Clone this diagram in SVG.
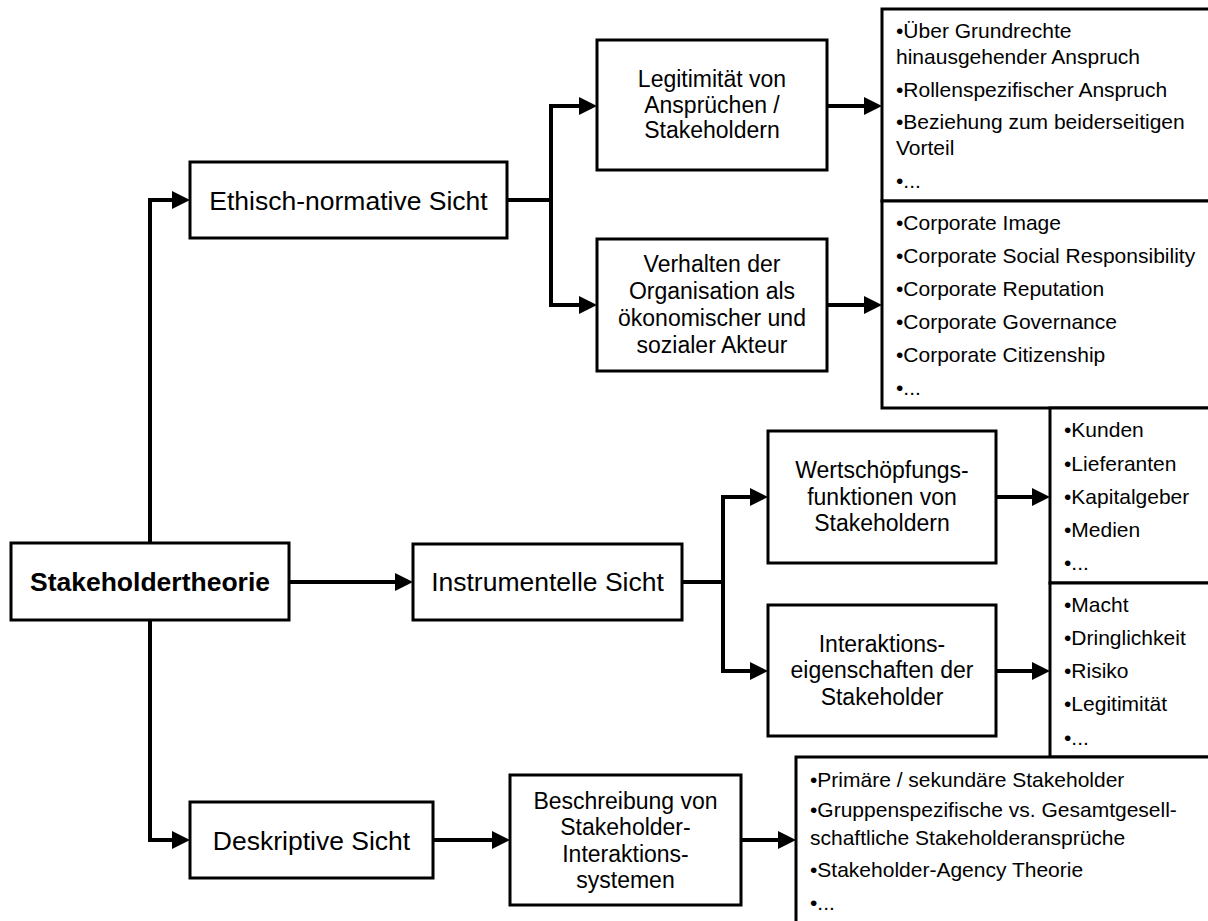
<svg xmlns="http://www.w3.org/2000/svg" width="1208" height="921" viewBox="0 0 1208 921">
  <style>
    .box{fill:#fff;stroke:#000;stroke-width:3}
    .conn{fill:none;stroke:#000;stroke-width:4;stroke-linejoin:miter}
    text{font-family:"Liberation Sans",Arial,Helvetica,sans-serif;fill:#000}
    .main{font-size:26.5px;text-anchor:middle}
    .bold{font-weight:bold}
    .mid{font-size:23px;text-anchor:middle}
    .list{font-size:21px}
  </style>
  <defs>
    <marker id="arrow" markerUnits="userSpaceOnUse" markerWidth="18" markerHeight="18" refX="0" refY="9" orient="auto">
      <path d="M0,0 L18,9 L0,18 Z" fill="#000"/>
    </marker>
  </defs>

  <rect width="1208" height="921" fill="#fff"/>

  <!-- connectors -->
  <g id="connectors" class="conn" marker-end="url(#arrow)">
    <path d="M150,543 V200 H172"/>
    <path d="M150,620 V840 H172"/>
    <path d="M289,582 H395"/>
    <path d="M507,200 H551 V106 H579"/>
    <path d="M551,200 V305 H579"/>
    <path d="M827,106 H864"/>
    <path d="M827,305 H864"/>
    <path d="M682,582 H723 V497 H750"/>
    <path d="M723,582 V671 H750"/>
    <path d="M996,497 H1032"/>
    <path d="M996,671 H1032"/>
    <path d="M433,840 H492"/>
    <path d="M741,840 H778"/>
  </g>

  <!-- root -->
  <g id="n-stakeholdertheorie">
    <rect class="box" x="11" y="543" width="278" height="77"/>
    <text class="main bold" x="150" y="591">Stakeholdertheorie</text>
  </g>

  <!-- views -->
  <g id="n-ethisch">
    <rect class="box" x="190" y="162" width="317" height="76"/>
    <text class="main" x="348.5" y="209.5">Ethisch-normative Sicht</text>
  </g>
  <g id="n-instrumentell">
    <rect class="box" x="413" y="544" width="269" height="76"/>
    <text class="main" x="547.5" y="591">Instrumentelle Sicht</text>
  </g>
  <g id="n-deskriptiv">
    <rect class="box" x="190" y="802" width="243" height="76"/>
    <text class="main" x="311.5" y="849.5">Deskriptive Sicht</text>
  </g>

  <!-- second level -->
  <g id="n-legitimitaet">
    <rect class="box" x="597" y="40" width="230" height="130"/>
    <text class="mid" x="712" y="87">Legitimität von</text>
    <text class="mid" x="712" y="112.5">Ansprüchen /</text>
    <text class="mid" x="712" y="138">Stakeholdern</text>
  </g>
  <g id="n-verhalten">
    <rect class="box" x="597" y="239" width="230" height="132"/>
    <text class="mid" x="712" y="272">Verhalten der</text>
    <text class="mid" x="712" y="299">Organisation als</text>
    <text class="mid" x="712" y="326">ökonomischer und</text>
    <text class="mid" x="712" y="353">sozialer Akteur</text>
  </g>
  <g id="n-wertschoepfung">
    <rect class="box" x="768" y="431" width="228" height="132"/>
    <text class="mid" x="882" y="478">Wertschöpfungs-</text>
    <text class="mid" x="882" y="504.5">funktionen von</text>
    <text class="mid" x="882" y="531">Stakeholdern</text>
  </g>
  <g id="n-interaktion">
    <rect class="box" x="768" y="605" width="228" height="131"/>
    <text class="mid" x="882" y="651.5">Interaktions-</text>
    <text class="mid" x="882" y="678">eigenschaften der</text>
    <text class="mid" x="882" y="704.5">Stakeholder</text>
  </g>
  <g id="n-beschreibung">
    <rect class="box" x="510" y="775" width="231" height="130"/>
    <text class="mid" x="625.5" y="808.5">Beschreibung von</text>
    <text class="mid" x="625.5" y="835">Stakeholder-</text>
    <text class="mid" x="625.5" y="861.5">Interaktions-</text>
    <text class="mid" x="625.5" y="888">systemen</text>
  </g>

  <!-- detail lists -->
  <g id="l-legitimitaet">
    <rect class="box" x="882" y="9" width="340" height="192"/>
    <text class="list" x="896" y="38">•Über Grundrechte</text>
    <text class="list" x="896" y="64">hinausgehender Anspruch</text>
    <text class="list" x="896" y="97">•Rollenspezifischer Anspruch</text>
    <text class="list" x="896" y="129">•Beziehung zum beiderseitigen</text>
    <text class="list" x="896" y="155">Vorteil</text>
    <text class="list" x="896" y="188">•...</text>
  </g>
  <g id="l-verhalten">
    <rect class="box" x="882" y="201" width="340" height="207"/>
    <text class="list" x="896" y="230">•Corporate Image</text>
    <text class="list" x="896" y="263">•Corporate Social Responsibility</text>
    <text class="list" x="896" y="296">•Corporate Reputation</text>
    <text class="list" x="896" y="329">•Corporate Governance</text>
    <text class="list" x="896" y="362">•Corporate Citizenship</text>
    <text class="list" x="896" y="395">•...</text>
  </g>
  <g id="l-wertschoepfung">
    <rect class="box" x="1050" y="408" width="170" height="175"/>
    <text class="list" x="1064" y="437">•Kunden</text>
    <text class="list" x="1064" y="470.5">•Lieferanten</text>
    <text class="list" x="1064" y="503.5">•Kapitalgeber</text>
    <text class="list" x="1064" y="536.5">•Medien</text>
    <text class="list" x="1064" y="570">•...</text>
  </g>
  <g id="l-interaktion">
    <rect class="box" x="1050" y="583" width="170" height="174"/>
    <text class="list" x="1064" y="612">•Macht</text>
    <text class="list" x="1064" y="645">•Dringlichkeit</text>
    <text class="list" x="1064" y="678">•Risiko</text>
    <text class="list" x="1064" y="711">•Legitimität</text>
    <text class="list" x="1064" y="745">•...</text>
  </g>
  <g id="l-beschreibung">
    <rect class="box" x="796" y="757" width="426" height="180"/>
    <text class="list" x="810" y="787">•Primäre / sekundäre Stakeholder</text>
    <text class="list" x="810" y="817">•Gruppenspezifische vs. Gesamtgesell-</text>
    <text class="list" x="810" y="845">schaftliche Stakeholderansprüche</text>
    <text class="list" x="810" y="877">•Stakeholder-Agency Theorie</text>
    <text class="list" x="810" y="910">•...</text>
  </g>
</svg>
